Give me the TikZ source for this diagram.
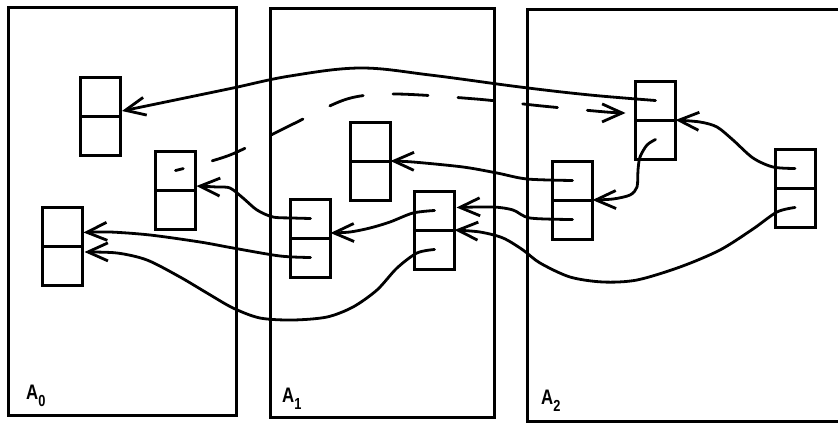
\documentclass[tikz,border=0pt]{standalone}
\usepackage{fontspec}
\setmainfont{Liberation Sans}
\usetikzlibrary{arrows.meta,calc}
\newcommand{\pairbox}[2]{%
  \node[cell, anchor=south] (#1-top) at (#2) {};
  \node[cell, anchor=north] (#1-bot) at (#2) {};}
\newcommand{\alabel}[1]{\scalebox{0.8}[1]{\bfseries A\raisebox{-7pt}{\fontsize{16}{16}\selectfont\bfseries #1}}}
\begin{document}
\begin{tikzpicture}[x=1pt,y=-1pt,
  cell/.style={draw, line width=3pt, minimum width=40pt, minimum height=39pt, inner sep=0pt, outer sep=0pt},
  panel/.style={draw, line width=3pt, inner sep=0pt, outer sep=0pt},
  link/.style={line width=2.8pt, line cap=round, line join=round, -{Straight Barb[length=20pt,width=18pt]}},
  lab/.style={anchor=base west, inner sep=0pt, font=\fontsize{21}{21}\selectfont}]
\useasboundingbox (0,0) rectangle (838,423);
% panels
\node[panel, minimum width=228pt, minimum height=408pt] (P0) at (122,211) {};
\node[panel, minimum width=224pt, minimum height=409pt] (P1) at (382,212.5) {};
\coordinate (P2tr) at (840,9);
\coordinate (P2tl) at (527,9);
\coordinate (P2bl) at (527,421);
\coordinate (P2br) at (840,421);
\draw[line width=3pt] (P2tr) -- (P2tl) -- (P2bl) -- (P2br);
% labels
\node[lab] (L0) at (26,399) {\alabel{0}};
\node[lab] (L1) at (282,402) {\alabel{1}};
\node[lab] (L2) at (541,404) {\alabel{2}};
% boxes
\pairbox{a}{100,116}
\pairbox{b}{175.5,190}
\pairbox{c}{62.5,246}
\pairbox{d}{310.5,238}
\pairbox{e}{370.5,161}
\pairbox{f}{434.5,230}
\pairbox{g}{655.5,120}
\pairbox{h}{572.5,200}
\pairbox{i}{795,188}
% arrow end points
\coordinate (a-in) at ($(a-top.south east)+(2,-5)$);
\coordinate (g-in) at ($(g-top.south west)+(-10,-7)$);
\coordinate (f-in) at ($(f-top.east)+(2,-3)$);
\coordinate (d-in) at ($(d-top.south east)+(0,-5)$);
\coordinate (c-in1) at ($(c-top.east)+(1,6)$);
\coordinate (c-in2) at ($(c-top.south east)+(2,6)$);
\coordinate (b-in) at ($(b-top.south east)+(1,-4)$);
% connectors
\draw[link] plot[smooth, tension=0.6] coordinates {(g-top.center) (590,95) (520,87) (430,75) (360,68) (290,76) (233,88) (180,99) (a-in)};
\draw[link, dash pattern=on 35pt off 30pt, dash phase=27pt] plot[smooth, tension=0.5] coordinates {(b-top.center) (230,155) (289,126) (347,99) (395,94) (476,99) (542,106) (606,112) (g-in)};
\draw[link] plot[smooth, tension=0.5] coordinates {(h-top.center) (527,179) (497,173) (463,167) (413,162) (e-top.south east)};
\draw[link] plot[smooth, tension=0.5] coordinates {(h-bot.center) (530,218) (513,210) (493,207) (f-in)};
\draw[link] plot[smooth, tension=0.5] coordinates {(g-bot.center) (647,145) (640,157) (638,170) (637,187) (630,195) (613,199) (h-top.south east)};
\draw[link] plot[smooth, tension=0.5] coordinates {(i-top.center) (773,167) (753,158) (733,140) (717,127) (700,122) (g-top.south east)};
\draw[link] plot[smooth, tension=0.5] coordinates {(i-bot.center) (777,212) (753,229) (720,250) (680,267) (637,280) (603,282) (570,277) (540,263) (523,250) (503,238) (480,232) (f-top.south east)};
\draw[link] plot[smooth, tension=0.5] coordinates {(f-top.center) (413,213) (390,222) (370,228) (350,232) (d-in)};
\draw[link] plot[smooth, tension=0.5] coordinates {(f-bot.center) (417,253) (397,268) (377,290) (353,307) (327,317) (293,320) (260,318) (233,308) (207,293) (180,277) (147,260) (117,253) (c-in2)};
\draw[link] plot[smooth, tension=0.5] coordinates {(d-top.center) (293,218) (273,217) (257,210) (243,198) (230,188) (217,187) (b-in)};
\draw[link] plot[smooth, tension=0.5] coordinates {(d-bot.center) (280,256) (233,248) (200,242) (150,235) (110,232) (c-in1)};
\end{tikzpicture}
\end{document}
